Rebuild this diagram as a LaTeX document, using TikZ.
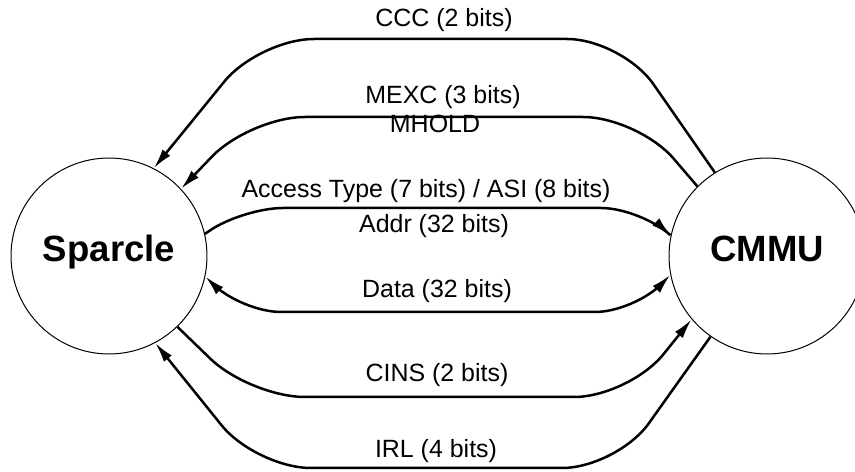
\documentclass[tikz,border=0pt]{standalone}
\usepackage{fontspec}
\setmainfont{Liberation Sans}
\usetikzlibrary{arrows.meta}
\tikzset{unit/.style={draw,circle,line width=0.02cm,minimum size=3.92cm,inner sep=0pt,
                      font=\bfseries\fontsize{20.8}{25}\selectfont,text height=0.52cm,text depth=0.3cm},
         sig/.style={anchor=base,inner sep=0pt,font=\fontsize{14.2}{17}\selectfont},
         bus/.style={line width=0.05cm,rounded corners=0.8cm},
         wide/.style={rounded corners=1.1cm}}

\begin{document}
\begin{tikzpicture}[x=0.02cm,y=-0.02cm,>={Latex[length=0.4cm,width=0.2cm]}]
        \useasboundingbox (0,0) rectangle (855,472);
        \node[unit](sparcle)at(109,256){Sparcle};
        \node[unit](cmmu)at(767,256){CMMU};

        \node[sig](ccc)at(444,27){CCC (2 bits)};
        \node[sig](mexc)at(443,104){MEXC (3 bits)};
        \node[sig](mhold)at(435,133){MHOLD};
        \node[sig](acc)at(426,198){Access Type (7 bits) / ASI (8 bits)};
        \node[sig](addr)at(434,233){Addr (32 bits)};
        \node[sig](data)at(437,298){Data (32 bits)};
        \node[sig](cins)at(437,382){CINS (2 bits)};
        \node[sig](irl)at(436,458){IRL (4 bits)};

        \draw[bus,wide,->](cmmu.122)--(622,39)--(259,39)--(sparcle.63);
        \draw[bus,wide,->](cmmu.135)--(638,117)--(250,117)--(sparcle.43);
        \draw[bus,->](sparcle.13)--(243,208)--(641,208)--(cmmu.168);
        \draw[bus,<->](sparcle.-12)--(241,312)--(635,312)--(cmmu.-169);
        \draw[bus,wide,->](sparcle.-46)--(250,397)--(629,397)--(cmmu.-140);
        \draw[bus,wide,->](cmmu.-125)--(617,468)--(256,468)--(sparcle.-62);
\end{tikzpicture}
\end{document}
